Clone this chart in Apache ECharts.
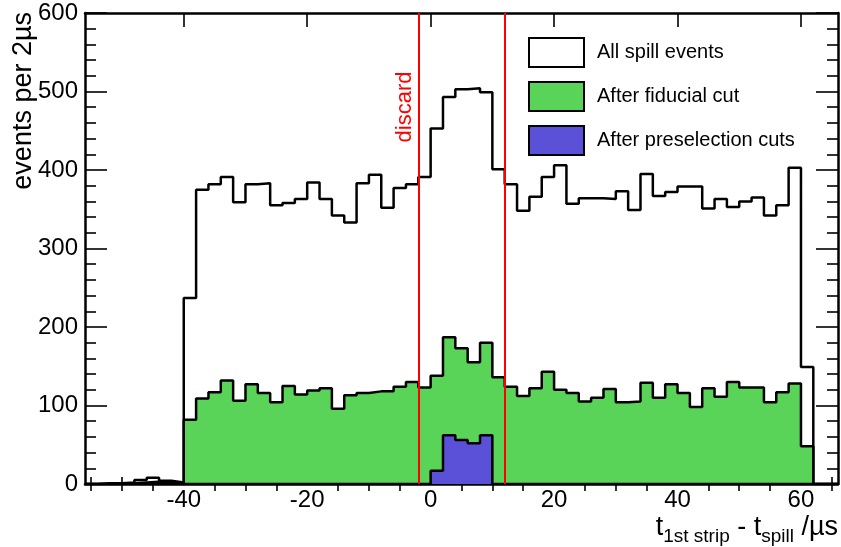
<!DOCTYPE html>
<html><head><meta charset="utf-8">
<script src="https://cdn.jsdelivr.net/npm/echarts@6/dist/echarts.min.js"></script>
<style>html,body{margin:0;padding:0;background:#fff}#c{width:841px;height:547px}</style>
</head><body><div id="c"></div>
<script>
// histogram bins: 2 µs wide, first bin starts at -56 µs
const binStart = -56;
const binWidth = 2;
const allSpill = [0,1,1,2,5,8,4,2,
  237,375,382,391,359,382,383,355,358,363,384,363,342,333,383,394,352,377,382,391,
  453,493,503,504,499,401,382,348,366,391,406,357,364,364,363,373,349,395,367,372,379,379,351,363,353,360,365,342,355,403,149,0,0];
const fiducial = [0,0,0,1,2,3,3,1,
  82,109,117,132,106,127,116,104,125,114,119,122,96,113,116,118,118,124,130,123,
  138,187,173,155,180,136,124,112,122,143,120,116,105,110,121,104,105,129,110,127,116,98,122,111,130,123,123,104,117,128,48,0,0];
const preselection = [0,0,0,0,0,0,0,0,
  0,0,0,0,0,0,0,0,0,0,0,0,0,0,0,0,0,0,0,0,
  17,62,56,52,62,0,0,0,0,0,0,0,0,0,0,0,0,0,0,0,0,0,0,0,0,0,0,0,0,0,0,0,0];
const seriesNames = ['All spill events','After fiducial cut','After preselection cuts'];
const xMajorTicks = [-40,-20,0,20,40,60];
const xMinorTicks = [-55,-50,-45,-35,-30,-25,-15,-10,-5,5,10,15,25,30,35,45,50,55,65];
const discardLines = [-2, 12];

const FF = "'Liberation Sans', Arial, Helvetica, sans-serif";
function steps(vals){
  const pts = vals.map((v,i)=>[binStart+i*binWidth, v]);
  pts.push([binStart+vals.length*binWidth, vals[vals.length-1]]);
  return pts;
}
const axLine = {show:true, onZero:false, lineStyle:{color:'#000', width:2.5}};
const tickStyle = {color:'#000', width:1.6};
function xAx(pos, major){
  return {type:'value', min:-56, max:66, position:pos, gridIndex:0,
    axisLine: major ? axLine : {show:false},
    axisTick:{show:true, inside:true, length: major?14:7, customValues: major?xMajorTicks:xMinorTicks, lineStyle:tickStyle},
    axisLabel: (major && pos==='bottom') ? {show:true, customValues:xMajorTicks, fontSize:24, color:'#000', margin:4, fontFamily:FF} : {show:false},
    splitLine:{show:false}};
}
function yAx(pos){
  return {type:'value', min:0, max:600, interval:100, position:pos,
    axisLine:axLine,
    axisTick:{show:true, inside:true, length:22, lineStyle:tickStyle},
    minorTick:{show:true, splitNumber:5, length:11, lineStyle:tickStyle},
    axisLabel: pos==='left' ? {show:true, fontSize:24, color:'#000', margin:7, fontFamily:FF} : {show:false},
    splitLine:{show:false}, minorSplitLine:{show:false}};
}
const chart = echarts.init(document.getElementById('c'));
chart.setOption({
  animation:false,
  backgroundColor:'#fff',
  grid:{left:85, right:3, top:13, bottom:63},
  xAxis:[xAx('bottom',true), xAx('bottom',false), xAx('top',true), xAx('top',false)],
  yAxis:[yAx('left'), yAx('right')],
  legend:{orient:'vertical', left:523, top:32, itemWidth:55, itemHeight:29, itemGap:13, icon:'rect',
    textStyle:{fontSize:20, color:'#000', fontFamily:FF, padding:[0,0,0,8]},
    data:[
      {name:seriesNames[0], itemStyle:{color:'#ffffff', borderColor:'#000', borderWidth:2}},
      {name:seriesNames[1], itemStyle:{color:'#59d459', borderColor:'#000', borderWidth:2}},
      {name:seriesNames[2], itemStyle:{color:'#5b51d8', borderColor:'#000', borderWidth:2}}
    ]},
  series:[
    {name:seriesNames[0], type:'line', step:'end', data:steps(allSpill), showSymbol:false, z:2,
      lineStyle:{color:'#000', width:2.5}, itemStyle:{color:'#fff'}, areaStyle:{color:'#fff', opacity:1}},
    {name:seriesNames[1], type:'line', step:'end', data:steps(fiducial), showSymbol:false, z:3,
      lineStyle:{color:'#000', width:2.5}, itemStyle:{color:'#59d459'}, areaStyle:{color:'#59d459', opacity:1}},
    {name:seriesNames[2], type:'line', step:'end', data:steps(preselection), showSymbol:false, z:4,
      lineStyle:{color:'#000', width:2.5}, itemStyle:{color:'#5b51d8'}, areaStyle:{color:'#5b51d8', opacity:1},
      markLine:{silent:true, symbol:'none', label:{show:false}, animation:false,
        lineStyle:{color:'#ff0000', width:2, type:'solid'},
        data: discardLines.map(v=>({xAxis:v}))}}
  ],
  graphic:[
    {type:'text', x:24, y:12, rotation:Math.PI/2, z:10,
      style:{text:'events per 2µs', fontSize:27, fill:'#000', align:'right', verticalAlign:'middle', fontFamily:FF}},
    {type:'text', x:405, y:107, rotation:Math.PI/2, z:10,
      style:{text:'discard', fontSize:22, fill:'#ff0000', align:'center', verticalAlign:'middle', fontFamily:FF}},
    {type:'text', x:838, y:546, z:10,
      style:{text:'{m|t}{s|1st strip}{m| - t}{s|spill}{m| /µs}', align:'right', verticalAlign:'bottom', fontFamily:FF,
        rich:{m:{fontSize:27, lineHeight:36, fill:'#000', fontFamily:FF}, s:{fontSize:19, lineHeight:13, verticalAlign:'bottom', fill:'#000', fontFamily:FF}}}}
  ]
});
</script></body></html>
